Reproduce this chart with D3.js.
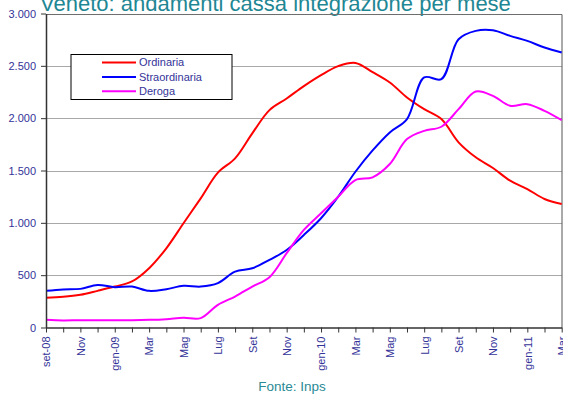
<!DOCTYPE html>
<html>
<head>
<meta charset="utf-8">
<script src="https://cdn.jsdelivr.net/npm/d3@7"></script>
<style>
  body { margin: 0; background: #fff; overflow: hidden; }
  svg { display: block; font-family: "Liberation Sans", Arial, sans-serif; }
</style>
</head>
<body>
<script>
// Veneto - cassa integrazione per mese (ore, migliaia)

var months = ["set-08","ott","Nov","dic","gen-09","feb","Mar","apr","Mag","giu","Lug","ago",
  "Set","ott","Nov","dic","gen-10","feb","Mar","apr","Mag","giu","Lug","ago",
  "Set","ott","Nov","dic","gen-11","feb","Mar"];

var ordinaria = [285, 293, 312, 350, 391, 440, 567, 757, 996, 1234, 1480, 1616,
  1855, 2077, 2188, 2306, 2411, 2497, 2528, 2440, 2341, 2198, 2086, 1991,
  1769, 1626, 1524, 1403, 1323, 1228, 1180];

var straordinaria = [350, 363, 369, 407, 385, 391, 350, 366, 398, 391, 424, 534,
  566, 646, 741, 884, 1044, 1250, 1488, 1692, 1864, 1991, 2389, 2373,
  2754, 2834, 2840, 2786, 2738, 2675, 2627];

var deroga = [73, 67, 70, 70, 70, 70, 73, 80, 93, 90, 217, 296,
  391, 481, 710, 932, 1091, 1250, 1409, 1435, 1562, 1800, 1879, 1918,
  2086, 2255, 2213, 2118, 2134, 2070, 1981];

var yTicks = [0, 500, 1000, 1500, 2000, 2500, 3000];

var series = [
  { name: "Ordinaria", values: ordinaria, color: "#ff0000" },
  { name: "Straordinaria", values: straordinaria, color: "#0000ff" },
  { name: "Deroga", values: deroga, color: "#ff00ff" }
];

var svgWidth = 563;
var svgHeight = 396;
var plotLeft = 46, plotRight = 561.7, plotTop = 13.5, plotBottom = 327.5;

var svg = d3.select("body")
  .append("svg")
  .attr("width", svgWidth)
  .attr("height", svgHeight);

var x = d3.scaleLinear().domain([0, months.length - 1]).range([plotLeft, plotRight]);
var y = d3.scaleLinear().domain([0, 3000]).range([plotBottom, plotTop]);

var it = d3.formatLocale({ decimal: ",", thousands: ".", grouping: [3], currency: ["", ""] });
var fmt = it.format(",");

// title (cut at the top in the original)
svg.append("text")
  .attr("x", 40)
  .attr("y", 11)
  .attr("fill", "#1f8794")
  .style("font-size", "22px")
  .text("Veneto: andamenti cassa integrazione per mese");

// gridlines
svg.append("g")
  .selectAll("line")
  .data(yTicks.slice(1))
  .enter()
  .append("line")
  .attr("x1", plotLeft)
  .attr("x2", 562)
  .attr("y1", function(d) { return Math.round(y(d)) + 0.5; })
  .attr("y2", function(d) { return Math.round(y(d)) + 0.5; })
  .attr("stroke", function(d) { return d == 3000 ? "#6e6e6e" : "#a8a8a8"; })
  .attr("stroke-width", 1);

// right frame
svg.append("line")
  .attr("x1", 562).attr("x2", 562)
  .attr("y1", Math.round(y(3000)) + 0.5).attr("y2", plotBottom)
  .attr("stroke", "#555");

// lines
var line = d3.line()
  .x(function(d, i) { return x(i); })
  .y(function(d) { return y(d); })
  .curve(d3.curveCatmullRom.alpha(0.5));

svg.append("g")
  .selectAll("path")
  .data(series)
  .enter()
  .append("path")
  .attr("d", function(s) { return line(s.values); })
  .attr("fill", "none")
  .attr("stroke", function(s) { return s.color; })
  .attr("stroke-width", 2);

// y axis
var leftAxis = d3.axisLeft(y)
  .tickValues(yTicks)
  .tickFormat(fmt)
  .tickSizeInner(5)
  .tickSizeOuter(0)
  .tickPadding(5);

var gy = svg.append("g")
  .attr("transform", "translate(" + plotLeft + ",0)")
  .call(leftAxis);
gy.select(".domain").attr("stroke", "#333").attr("stroke-width", 1.5);
gy.selectAll(".tick line").attr("stroke", "#333");
gy.selectAll("text").attr("fill", "#333399").style("font-size", "11px");

// x axis
var bottomAxis = d3.axisBottom(x)
  .tickValues(d3.range(months.length))
  .tickFormat(function(i) { return i % 2 ? "" : months[i]; })
  .tickSizeInner(5)
  .tickSizeOuter(0);

var gx = svg.append("g")
  .attr("transform", "translate(0," + plotBottom + ")")
  .call(bottomAxis);
gx.select(".domain").attr("stroke", "#333").attr("stroke-width", 1.5);
gx.selectAll(".tick line").attr("stroke", "#333");
gx.selectAll("text")
  .attr("fill", "#333399")
  .style("font-size", "11px")
  .style("text-anchor", "end")
  .attr("transform", "rotate(-90)")
  .attr("x", -9)
  .attr("y", 0)
  .attr("dy", "0.35em");

// legend
var legend = svg.append("g");
legend.append("rect")
  .attr("x", 71).attr("y", 54.5)
  .attr("width", 161).attr("height", 45)
  .attr("fill", "#fff")
  .attr("stroke", "#000");

var rows = legend.selectAll(".row")
  .data(series)
  .enter()
  .append("g")
  .attr("transform", function(s, i) { return "translate(0," + (62.5 + i * 14.4) + ")"; });

rows.append("line")
  .attr("x1", 102).attr("x2", 136)
  .attr("stroke", function(s) { return s.color; })
  .attr("stroke-width", 2);

rows.append("text")
  .attr("x", 139)
  .attr("dy", "0.35em")
  .attr("fill", "#333399")
  .style("font-size", "11px")
  .text(function(s) { return s.name; });

// source
svg.append("text")
  .attr("x", 292)
  .attr("y", 391)
  .attr("text-anchor", "middle")
  .attr("fill", "#2a8a96")
  .style("font-size", "13.5px")
  .text("Fonte: Inps");
</script>
</body>
</html>
